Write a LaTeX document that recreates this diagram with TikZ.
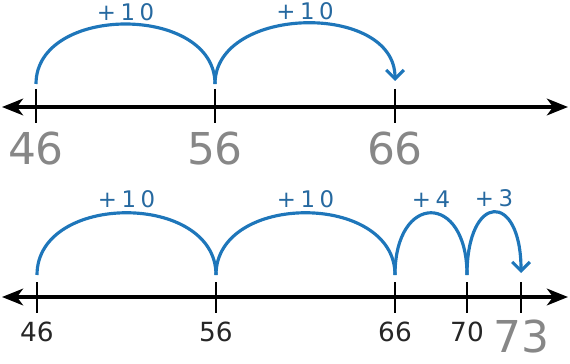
\documentclass[tikz,border=0pt]{standalone}
\usepackage{fontspec}
\setmainfont{DejaVu Sans}
\newfontfamily\hopfont[LetterSpace=20]{DejaVu Sans}
\usetikzlibrary{positioning, arrows.meta}
\definecolor{hopblue}{RGB}{30,118,186}
\definecolor{hoplabel}{RGB}{38,105,160}
\definecolor{traceme}{RGB}{135,135,135}

\begin{document}
\begin{tikzpicture}[x=0.02cm, y=-0.02cm,
  every node/.style={inner sep=1pt},
  numline/.style={{Stealth[length=12pt, width=9.5pt, inset=3.5pt]}-{Stealth[length=12pt, width=9.5pt, inset=3.5pt]},
                  line width=1.8pt},
  tickmark/.style={line width=1.2pt},
  hop/.style={hopblue, line width=1.8pt},
  hoparrow/.style={hop, -{Straight Barb[length=5pt, width=10pt]}},
  hoplbl/.style={font=\hopfont\fontsize{13}{14}\selectfont, color=hoplabel},
  num/.style={font=\fontsize{15}{16}\selectfont, color=black!85},
  tracenum/.style={font=\fontsize{25}{27}\selectfont, color=traceme}]
\useasboundingbox (0,0) rectangle (570,364);

% top line: 46, 56, 66
\coordinate (tl) at (2,107);
\coordinate (tr) at (568,107);
\draw[numline] (tl) -- (tr);
\foreach \x/\n in {36/46, 215/56, 395/66} {
  \coordinate (tt\n) at (\x,89);
  \coordinate (tb\n) at (\x,123);
  \coordinate (ja\n) at (\x,84);
  \draw[tickmark] (tt\n) -- (tb\n);
}
\coordinate (jz66) at (395,81);
\node[tracenum, below=4pt of tb46] (a46) {46};
\node[tracenum, below=4pt of tb56] (a56) {56};
\node[tracenum, below=4pt of tb66] (a66) {66};
\draw[hop] (ja46) .. controls +(0,-80) and +(0,-80) .. (ja56)
  node[hoplbl, midway, above=0pt] (h1) {+10};
\draw[hoparrow] (ja56) .. controls +(0,-79) and +(0,-79) .. (jz66)
  node[hoplbl, midway, above=0pt] (h2) {+10};

% bottom line: 46 to 73
\coordinate (bl) at (2,297);
\coordinate (br) at (568,297);
\draw[numline] (bl) -- (br);
\foreach \x/\n in {37/46, 216/56, 395/66, 467/70, 521/73} {
  \coordinate (st\n) at (\x,282);
  \coordinate (sb\n) at (\x,313);
  \coordinate (jb\n) at (\x,275);
  \draw[tickmark] (st\n) -- (sb\n);
}
\coordinate (jz73) at (521,273);
\node[num, below=4pt of sb46] (b46) {46};
\node[num, below=4pt of sb56] (b56) {56};
\node[num, below=4pt of sb66] (b66) {66};
\node[num, below=4pt of sb70] (b70) {70};
\node[tracenum, below=3pt of sb73] (b73) {73};
\draw[hop] (jb46) .. controls +(0,-83) and +(0,-83) .. (jb56)
  node[hoplbl, midway, above=1pt] (h3) {+10};
\draw[hop] (jb56) .. controls +(0,-83) and +(0,-83) .. (jb66)
  node[hoplbl, midway, above=1pt] (h4) {+10};
\draw[hop] (jb66) .. controls +(0,-83) and +(0,-83) .. (jb70)
  node[hoplbl, midway, above=1pt] (h5) {+4};
\draw[hoparrow] (jb70) .. controls +(0,-83) and +(0,-82) .. (jz73)
  node[hoplbl, midway, above=1pt] (h6) {+3};
\end{tikzpicture}
\end{document}
